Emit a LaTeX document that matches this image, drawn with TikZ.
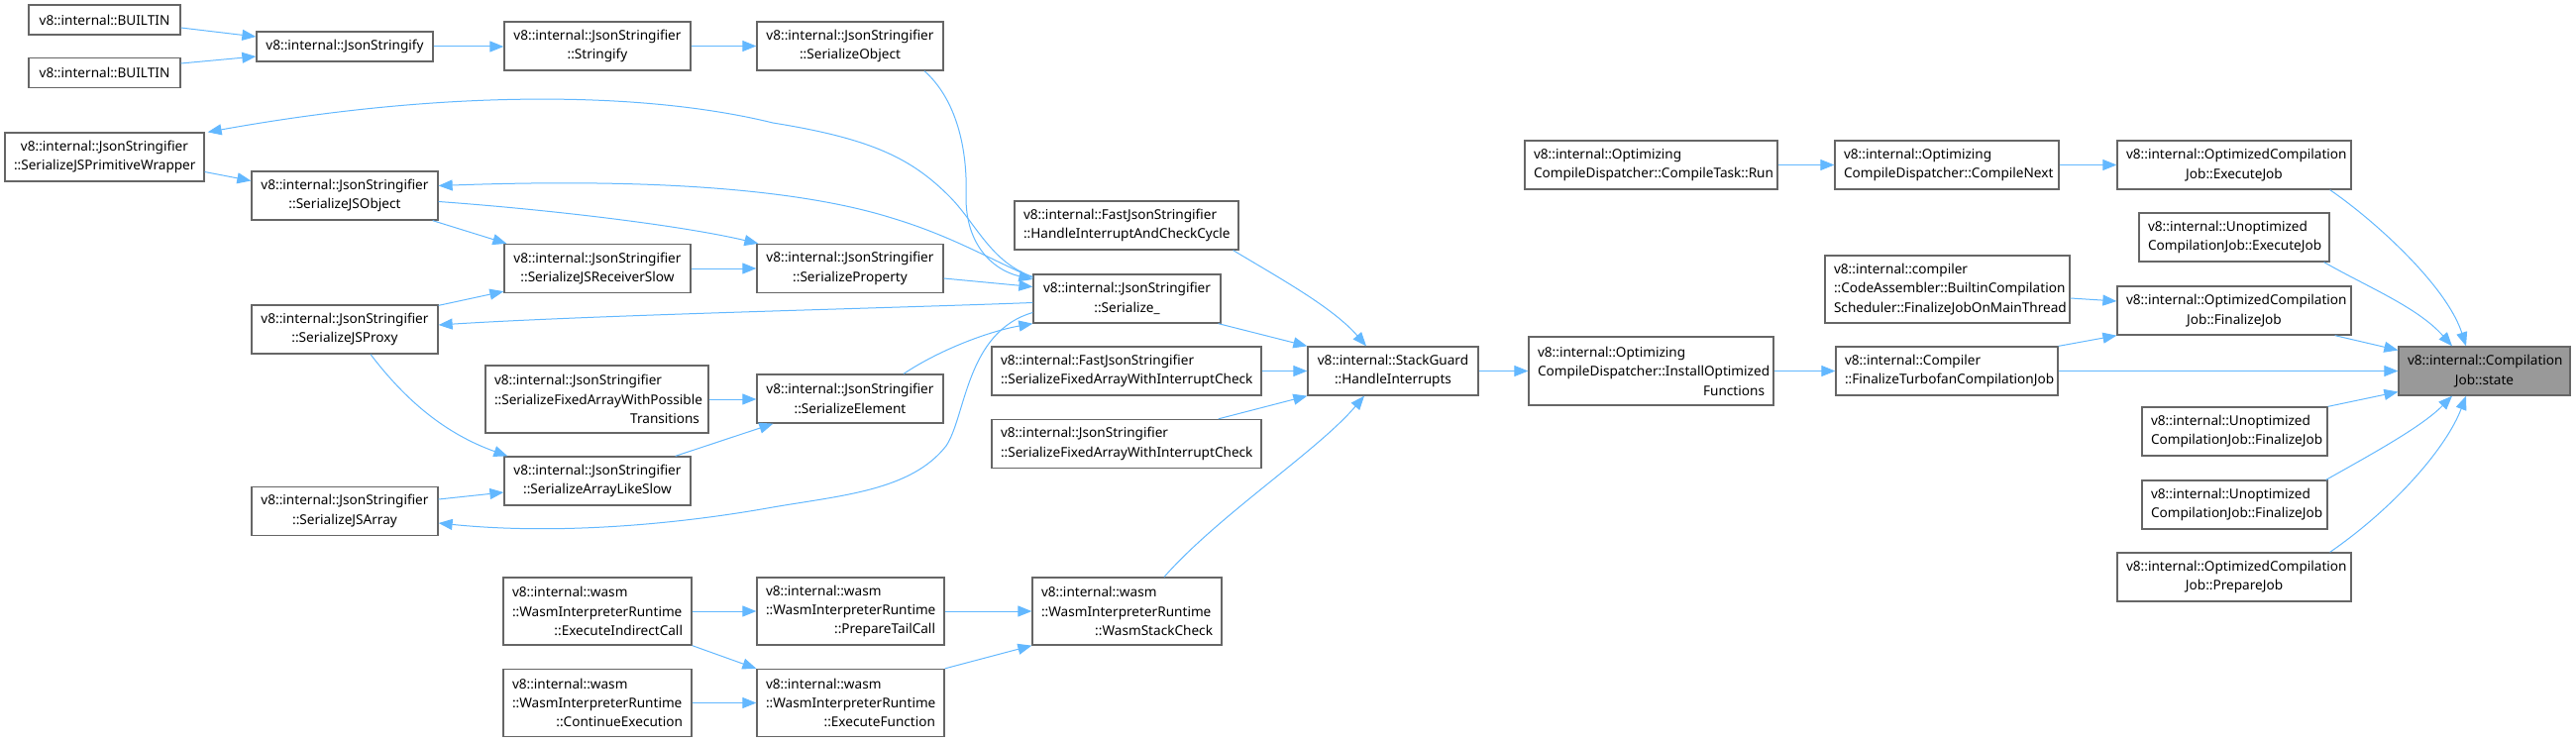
\documentclass[tikz,border=0pt]{standalone}
\usepackage{fontspec}
\setmainfont{Noto Sans}[HyphenChar=None]
\usetikzlibrary{arrows.meta,calc}
\definecolor{edgeblue}{HTML}{63B8FF}
\definecolor{boxgray}{HTML}{666666}
\definecolor{tgtgray}{HTML}{999999}
\hyphenpenalty=10000
\exhyphenpenalty=10000
\newcommand\ctr[1]{\hspace*{\fill}#1\hspace*{\fill}}
\begin{document}
\begin{tikzpicture}[x=0.5pt,y=-0.5pt,
  bx/.style={draw=boxgray, fill=white, line width=0.65pt, inner xsep=4.5pt, inner ysep=0pt,
    font=\fontsize{6.8pt}{9.7pt}\selectfont},
  cbx/.style={bx, align=center},
  lbx/.style={bx, align=left},
  ed/.style={draw=edgeblue, line width=0.5pt, -{Triangle[length=7pt,width=5.5pt]}}]
\useasboundingbox (0,0) rectangle (2600,749);

% ---------- nodes ----------
\node[cbx, minimum width=76.5pt, minimum height=15pt, text width=67.5pt] (b1) at (105.5,20) {v8::internal::BUILTIN};
\node[cbx, minimum width=76.5pt, minimum height=15pt, text width=67.5pt] (b2) at (105.5,73.5) {v8::internal::BUILTIN};
\node[cbx, minimum width=89pt, minimum height=15pt, text width=80pt] (jsfy) at (348,47) {v8::internal::JsonStringify};
\node[cbx, minimum width=94pt, minimum height=24.5pt, text width=85pt] (strfy) at (603,46.5) {v8::internal::JsonStringifier\\::Stringify};
\node[cbx, minimum width=94pt, minimum height=24.5pt, text width=85pt] (sobj) at (858,46.5) {v8::internal::JsonStringifier\\::SerializeObject};
\node[cbx, minimum width=100.5pt, minimum height=24.5pt, text width=91.5pt] (prim) at (105.5,158.5) {v8::internal::JsonStringifier\\::SerializeJSPrimitiveWrapper};
\node[cbx, minimum width=94pt, minimum height=24.5pt, text width=85pt] (jsobj) at (348,197.5) {v8::internal::JsonStringifier\\::SerializeJSObject};
\node[cbx, minimum width=94pt, minimum height=24.5pt, text width=85pt] (recv) at (603,271) {v8::internal::JsonStringifier\\::SerializeJSReceiverSlow};
\node[cbx, minimum width=94pt, minimum height=24.5pt, text width=85pt] (prop) at (858,271) {v8::internal::JsonStringifier\\::SerializeProperty};
\node[cbx, minimum width=94pt, minimum height=24.5pt, text width=85pt] (proxy) at (348,332.5) {v8::internal::JsonStringifier\\::SerializeJSProxy};
\node[lbx, minimum width=112.5pt, minimum height=34pt, text width=103.5pt] (fawpt) at (602.5,403) {v8::internal::JsonStringifier\\::SerializeFixedArrayWithPossible\\\ctr{Transitions}};
\node[cbx, minimum width=94pt, minimum height=24.5pt, text width=85pt] (elem) at (858,402.5) {v8::internal::JsonStringifier\\::SerializeElement};
\node[cbx, minimum width=94pt, minimum height=24.5pt, text width=85pt] (alike) at (603,485.5) {v8::internal::JsonStringifier\\::SerializeArrayLikeSlow};
\node[cbx, minimum width=94pt, minimum height=24.5pt, text width=85pt] (jsarr) at (348,516) {v8::internal::JsonStringifier\\::SerializeJSArray};
\node[lbx, minimum width=95pt, minimum height=34pt, text width=86pt] (eic) at (603,617) {v8::internal::wasm\\::WasmInterpreterRuntime\\\ctr{::ExecuteIndirectCall}};
\node[lbx, minimum width=95pt, minimum height=34pt, text width=86pt] (cont) at (603,709.5) {v8::internal::wasm\\::WasmInterpreterRuntime\\\ctr{::ContinueExecution}};
\node[lbx, minimum width=94.5pt, minimum height=34pt, text width=85.5pt] (ptc) at (858.5,617) {v8::internal::wasm\\::WasmInterpreterRuntime\\\ctr{::PrepareTailCall}};
\node[lbx, minimum width=94.5pt, minimum height=34pt, text width=85.5pt] (efn) at (858.5,709.5) {v8::internal::wasm\\::WasmInterpreterRuntime\\\ctr{::ExecuteFunction}};
\node[lbx, minimum width=95.5pt, minimum height=34pt, text width=86.5pt] (wsc) at (1137.5,617) {v8::internal::wasm\\::WasmInterpreterRuntime\\\ctr{::WasmStackCheck}};
\node[lbx, minimum width=113pt, minimum height=24.5pt, text width=104pt] (hiacc) at (1137,227.5) {v8::internal::FastJsonStringifier\\::HandleInterruptAndCheckCycle};
\node[cbx, minimum width=94.5pt, minimum height=24.5pt, text width=85.5pt] (ser) at (1137.5,301.5) {v8::internal::JsonStringifier\\::Serialize\_};
\node[lbx, minimum width=136pt, minimum height=24.5pt, text width=127pt] (ffawic) at (1137,374.5) {v8::internal::FastJsonStringifier\\::SerializeFixedArrayWithInterruptCheck};
\node[lbx, minimum width=136pt, minimum height=24.5pt, text width=127pt] (jfawic) at (1137,448) {v8::internal::JsonStringifier\\::SerializeFixedArrayWithInterruptCheck};
\node[cbx, minimum width=86pt, minimum height=24.5pt, text width=77pt] (sg) at (1406,374.5) {v8::internal::StackGuard\\::HandleInterrupts};
\node[lbx, minimum width=123.5pt, minimum height=34.5pt, text width=114.5pt] (iof) at (1666.5,374.5) {v8::internal::Optimizing\\CompileDispatcher::InstallOptimized\\\ctr{Functions}};
\node[lbx, minimum width=127.5pt, minimum height=24.5pt, text width=118.5pt] (ctask) at (1666.5,166.5) {v8::internal::Optimizing\\CompileDispatcher::CompileTask::Run};
\node[lbx, minimum width=113pt, minimum height=24.5pt, text width=104pt] (cn) at (1965,166.5) {v8::internal::Optimizing\\CompileDispatcher::CompileNext};
\node[cbx, minimum width=118pt, minimum height=24.5pt, text width=109pt] (oej) at (2255,166.5) {v8::internal::OptimizedCompilation\\Job::ExecuteJob};
\node[lbx, minimum width=96pt, minimum height=24.5pt, text width=87pt] (uej) at (2255,239.5) {v8::internal::Unoptimized\\CompilationJob::ExecuteJob};
\node[lbx, minimum width=123.5pt, minimum height=34pt, text width=114.5pt] (bcs) at (1965.5,292) {v8::internal::compiler\\::CodeAssembler::BuiltinCompilation\\Scheduler::FinalizeJobOnMainThread};
\node[cbx, minimum width=118pt, minimum height=24.5pt, text width=109pt] (ofj) at (2255,313.5) {v8::internal::OptimizedCompilation\\Job::FinalizeJob};
\node[lbx, minimum width=112pt, minimum height=24.5pt, text width=103pt] (ftc) at (1965,374.5) {v8::internal::Compiler\\::FinalizeTurbofanCompilationJob};
\node[cbx, fill=tgtgray, minimum width=86.5pt, minimum height=24.5pt, text width=77.5pt] (st) at (2507.5,374.5) {v8::internal::Compilation\\Job::state};
\node[lbx, minimum width=93.5pt, minimum height=24.5pt, text width=84.5pt] (ufja) at (2255.5,435.5) {v8::internal::Unoptimized\\CompilationJob::FinalizeJob};
\node[lbx, minimum width=93.5pt, minimum height=24.5pt, text width=84.5pt] (ufjb) at (2255.5,509.5) {v8::internal::Unoptimized\\CompilationJob::FinalizeJob};
\node[cbx, minimum width=118pt, minimum height=24.5pt, text width=109pt] (opj) at (2255,582.5) {v8::internal::OptimizedCompilation\\Job::PrepareJob};

% ---------- edges ----------
\draw[ed] ($(b1.east)+(0,8)$) -- ($(jsfy.west)+(0,-10)$);
\draw[ed] ($(b2.east)+(0,-9.5)$) -- ($(jsfy.west)+(0,10)$);
\draw[ed] (jsfy.east) -- (jsfy.east -| strfy.west);
\draw[ed] (strfy.east) -- (sobj.west);
\draw[ed] ($(sobj.south)+(75,0)$) .. controls (965,100) and (977,150) .. (975,200)
  .. controls (975,245) and (1000,272) .. ($(ser.west)+(0,-19.5)$);
\draw[ed] ($(ser.north west)+(0,3)$) .. controls (1000,265) and (985,225) .. (958,198)
  .. controls (920,160) and (880,140) .. (780,124)
  .. controls (650,92) and (450,90) .. ($(prim.north east)+(3,0)$);
\draw[ed] ($(prim.east)+(0,15)$) -- ($(jsobj.west)+(0,-15)$);
\draw[ed] ($(ser.north west)+(0,4)$) .. controls (1000,262) and (960,238) .. (900,220)
  .. controls (830,198) and (700,178) .. ($(jsobj.east)+(0,-10)$);
\draw[ed] ($(jsobj.south east)+(-6,0)$) -- ($(recv.north west)+(3,0)$);
\draw[ed] ($(jsobj.east)+(0,6)$) .. controls (560,212) and (690,228) .. ($(prop.north west)+(2,0)$);
\draw[ed] (recv.east) -- (prop.west);
\draw[ed] ($(proxy.north east)+(0,1)$) -- ($(recv.south west)+(0,-2)$);
\draw[ed] ($(ser.west)+(0,4)$) .. controls (900,311) and (600,318) .. ($(proxy.east)+(0,-4.5)$);
\draw[ed] ($(prop.east)+(0,10)$) -- ($(ser.west)+(0,-12)$);
\draw[ed] ($(elem.north)+(54,0)$) .. controls (950,352) and (1000,334) .. (ser.south west);
\draw[ed] ($(ser.west)+(0,14)$) .. controls (975,335) and (975,420) .. (955,450)
  .. controls (920,495) and (850,500) .. (780,512)
  .. controls (680,530) and (560,540) .. ($(jsarr.east)+(0,12)$);
\draw[ed] ($(proxy.south)+(26,0)$) .. controls (410,405) and (450,438) .. ($(alike.north west)+(4,0)$);
\draw[ed] (fawpt.east) -- (fawpt.east -| elem.west);
\draw[ed] ($(alike.north east)+(-16,0)$) -- ($(elem.south west)+(17,0)$);
\draw[ed] ($(jsarr.east)+(0,-12)$) -- ($(alike.west)+(0,11.5)$);
\draw[ed] ($(ser.south east)+(-3,0)$) -- (sg.north west);
\draw[ed] ($(hiacc.south east)+(-6,0)$) .. controls (1290,280) and (1345,310) .. ($(sg.north)+(-27,0)$);
\draw[ed] (ffawic.east) -- (sg.west);
\draw[ed] ($(jfawic.north east)+(-44,0)$) -- (sg.south west);
\draw[ed] ($(wsc.north)+(37.5,0)$) .. controls (1230,520) and (1330,455) .. ($(sg.south)+(-29,0)$);
\draw[ed] (sg.east) -- (iof.west);
\draw[ed] (eic.east) -- (ptc.west);
\draw[ed] (eic.south east) -- (efn.north west);
\draw[ed] (cont.east) -- (efn.west);
\draw[ed] (ptc.east) -- (wsc.west);
\draw[ed] (efn.north east) -- (wsc.south west);
\draw[ed] (ctask.east) -- (cn.west);
\draw[ed] (cn.east) -- (oej.west);
\draw[ed] (iof.east) -- (ftc.west);
\draw[ed] ($(bcs.east)+(0,9)$) -- ($(ofj.west)+(0,-9.5)$);
\draw[ed] (ftc.north east) -- (ofj.south west);
\draw[ed] (ftc.east) -- (st.west);
\draw[ed] ($(oej.south east)+(-22,0)$) .. controls (2400,225) and (2470,290) .. ($(st.north)+(-18.5,0)$);
\draw[ed] ($(uej.south east)+(-6,0)$) .. controls (2390,290) and (2440,310) .. ($(st.north)+(-32.5,0)$);
\draw[ed] ($(ofj.south east)+(-17,0)$) -- ($(st.west)+(0,-21)$);
\draw[ed] (ufja.north east) -- ($(st.west)+(0,21)$);
\draw[ed] ($(ufjb.north east)+(-2,0)$) .. controls (2400,455) and (2445,430) .. ($(st.south)+(-32.5,0)$);
\draw[ed] ($(opj.north east)+(-22,0)$) .. controls (2420,510) and (2470,450) .. ($(st.south)+(-18.5,0)$);
\end{tikzpicture}
\end{document}
